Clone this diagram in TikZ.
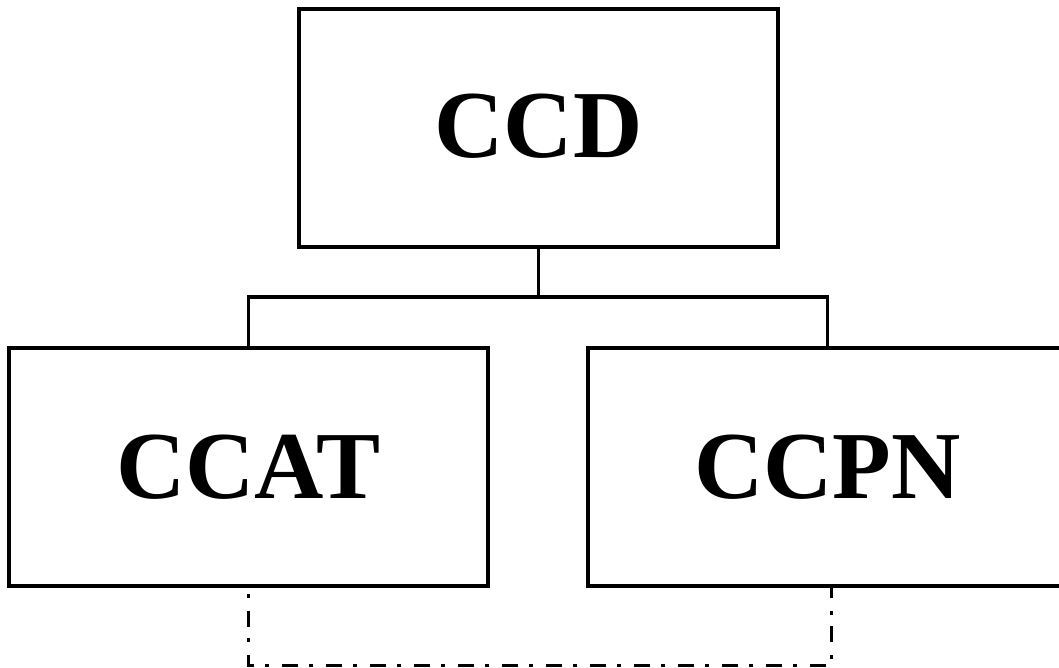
\documentclass[tikz,border=0pt]{standalone}
\usepackage{fontspec}
\setmainfont{Liberation Serif}[BoldFont={Liberation Serif Bold}]
\begin{document}
\begin{tikzpicture}[x=1pt,y=-1pt,
  unitbox/.style={draw, line width=3.6pt, minimum width=479pt, minimum height=238pt,
    inner sep=0pt, font=\fontsize{96}{110}\selectfont\bfseries},
  treeline/.style={line width=3.2pt},
  linkline/.style={line width=3pt, dash pattern=on 16pt off 11pt on 4pt off 13pt, dash phase=21pt}]
  \clip (0,0) rectangle (1059,668);
  \useasboundingbox (0,0) rectangle (1059,668);

  % organisational boxes
  \node[unitbox] (ccd)  at (538.5,128) {\raisebox{4pt}{CCD}};
  \node[unitbox] (ccat) at (248.5,467) {CCAT};
  \node[unitbox] (ccpn) at (827.5,467) {CCPN};

  % hierarchy connector
  \coordinate (junction) at (538.5,297);
  \draw[treeline] (ccd.south) -- (junction);
  \draw[treeline] (ccat.north) |- (junction) -| (ccpn.north);

  % dash-dot link between the two units
  \coordinate (pnfoot) at ([xshift=4pt]ccpn.south);
  \coordinate (base) at (248.5,665);
  \draw[linkline] (ccat.south) -- (base) -| (pnfoot);
\end{tikzpicture}
\end{document}
